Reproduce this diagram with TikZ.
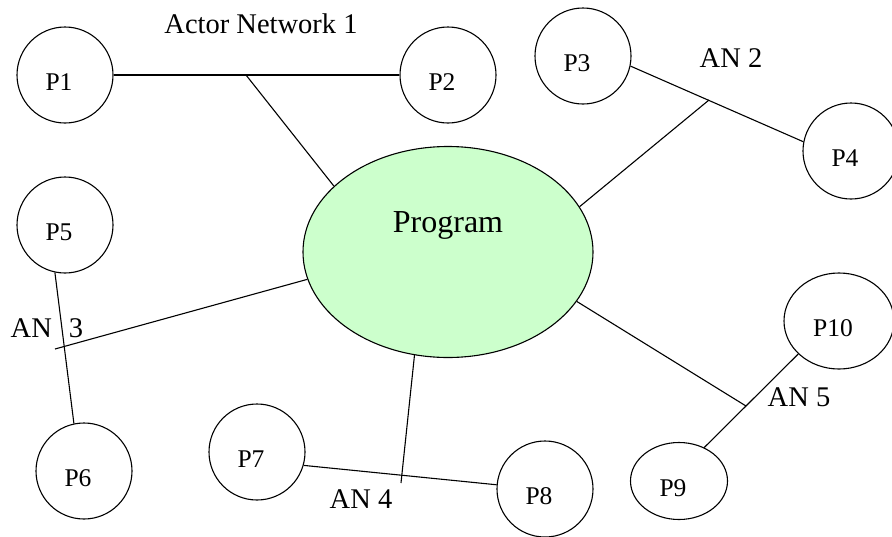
\documentclass[tikz,border=0pt]{standalone}
\usepackage{fontspec}
\setmainfont{Liberation Serif}
\usetikzlibrary{shapes.geometric}
\definecolor{progfill}{HTML}{CCFFCC}

\begin{document}
\begin{tikzpicture}[x=1pt,y=-1pt,line width=1.1pt,
  actor/.style={circle,draw,minimum size=96pt,inner sep=0pt,
    label={[font=\fontsize{25.5}{28}\selectfont,xshift=-6pt,yshift=-7pt]center:#1}},
  anlabel/.style={font=\fontsize{28.5}{32}\selectfont,inner sep=0pt}]

\useasboundingbox (0,0) rectangle (892,536);

\node [draw,ellipse,fill=progfill,minimum width=290pt,minimum height=211pt,
  label={[font=\fontsize{32}{36}\selectfont,yshift=27pt]center:Program}] at (448,252) (prog) {};

\node [actor=P1] at (65,75) (p1) {};
\node [actor=P2] at (448,75) (p2) {};
\node [actor=P3] at (583,56) (p3) {};
\node [actor=P4] at (851,151) (p4) {};
\node [actor=P5] at (65,225) (p5) {};
\node [actor=P6] at (84,471) (p6) {};
\node [actor=P7] at (257,452) (p7) {};
\node [actor=P8] at (545,489) (p8) {};
\node [actor=P9,ellipse,minimum width=97pt,minimum height=77pt] at (679,481) (p9) {};
\node [actor=P10,ellipse,minimum width=110pt,minimum height=96pt] at (839,321) (p10) {};

\coordinate (an1) at (246,75);
\coordinate (an2) at (709,100);
\coordinate (an3) at (55,349);
\coordinate (an4) at (401,483);
\coordinate (an5) at (746,406);

\draw (p1) -- (p2);
\draw (an1) -- (prog.150);
\draw (p3.-12) -- (p4.169);
\draw (an2) -- (prog.19);
\draw (p5.258) -- (p6.102);
\draw (prog.191) -- (an3);
\draw (p7.-16) -- (p8.175);
\draw (prog.252) -- (an4);
\draw (p9.53) -- (p10.219);
\draw (prog.339) -- (an5);

\node [anlabel] at (261,24) (an1label) {Actor Network 1};
\node [anlabel] at (731,58) (an2label) {AN 2};
\node [anlabel] at (47,328) (an3label) {AN\hspace{0.6em}3};
\node [anlabel] at (361,499) (an4label) {AN 4};
\node [anlabel] at (799,397) (an5label) {AN 5};

\end{tikzpicture}
\end{document}
